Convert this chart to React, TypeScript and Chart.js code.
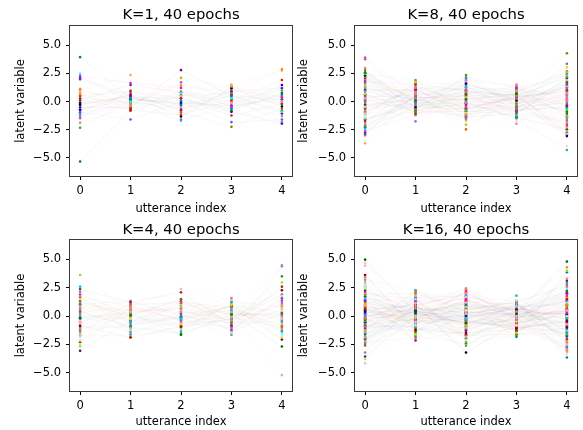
import React, { useEffect, useRef } from 'react';
import { Chart, registerables } from 'chart.js';

Chart.register(...registerables);

const FONT = '"DejaVu Sans", sans-serif';

// x positions (utterance index) and y tick labels
const UTTERANCE_INDEX = [0, 1, 2, 3, 4];
const Y_TICKS = [-5, -2.5, 0, 2.5, 5];

// ---------- K=1 : latent value of each sample at utterance 0..4 ----------
const K1_U0 = [3.94, 2.47, 2.26, 2.09, 1.97, 1.12, 0.97, 0.82, 0.68, 0.5, 0.24, 0.09, -0.29, -0.5, -0.7, -0.94, -1.09, -1.29, -1.47, -1.88, -2.32, -5.32, 0.3, -0.1, 1.1, -0.8, 0.6, -0.2];
const K1_U1 = [0.3, 0.0, 1.65, 0.5, 0.2, -0.2, 2.35, 0.35, -0.4, 0.9, -0.76, 1.47, 0.53, -0.56, 0.18, -1.59, 0.0, -0.2, 0.97, -0.41, 0.1, -0.8, -0.1, 0.4, -0.3, 0.7, -0.65, 0.25];
const K1_U2 = [-0.3, 0.8, 1.2, -0.7, 0.1, 1.41, 0.5, -0.5, 2.1, 0.3, -1.18, 0.82, -1.32, 2.79, -0.12, 0.0, -1.59, 1.7, -0.35, -1.7, -0.94, 0.53, -0.53, 0.3, 0.6, -0.8, 0.9, -0.2];
const K1_U3 = [0.5, 0.3, -0.4, 0.9, -0.6, 0.8, 1.5, -0.1, 1.35, -1.24, 0.1, -0.8, 1.18, 0.53, -0.35, -1.82, -0.59, 0.3, 0.97, -0.12, -2.24, 0.76, 0.2, -0.9, 0.0, 0.6, -0.4, 1.3];
const K1_U4 = [0.2, -0.9, 0.4, 1.2, 0.6, 2.88, 2.76, 0.0, 0.4, -0.2, 1.91, 0.76, -0.44, -1.06, 1.47, -1.59, 1.18, -1.82, 0.38, -1.29, -0.65, -0.21, 0.97, -1.94, 0.59, -0.85, 0.18, 0.0];

// ---------- K=8 ----------
const K8_U0 = [3.9, 3.75, 2.97, 2.8, 2.6, 2.45, 2.3, 2.2, 2.1, 2.0, 1.9, 1.75, 1.6, 1.5, 1.35, 1.2, 1.1, 1.0, 0.85, 0.7, 0.6, 0.5, 0.35, 0.2, 0.1, 0.0, -0.1, -0.25, -0.35, -0.5, -0.6, -0.75, -0.85, -1.0, -1.1, -1.25, -1.4, -1.5, -1.6, -1.75, -1.9, -2.0, -2.15, -2.3, -2.45, -2.6, -2.75, -2.9, -3.0, -3.7, 1.65, 0.95, 0.25, -0.45, -1.2, 2.5, -2.2, 0.65, -0.95, 1.3, -1.55, 0.4, -0.3, 2.15];
const K8_U1 = [0.5, -0.3, 1.2, -0.8, 0.1, 1.91, -0.5, 0.8, -1.1, 0.3, -0.1, 1.5, -0.6, 0.6, -1.24, 0.0, 1.0, -0.4, 0.2, 1.7, -0.9, 0.4, -0.2, 1.3, -0.7, 0.7, -1.76, 0.15, 0.9, -0.35, 1.1, -0.05, 0.55, -1.0, 0.25, 1.4, -0.45, 0.85, -0.15, 0.35, -0.85, 1.8, 0.05, -0.55, 0.65, -1.15, 0.45, 1.15, -0.25, 0.75, -0.65, 0.95, -0.95, 0.3, 1.6, -0.1, 0.5, -0.75, 1.25, 0.1, -0.4, 0.6, -0.3, 0.2];
const K8_U2 = [-0.5, 1.0, -1.2, 2.35, 0.2, -0.8, 1.6, -0.1, 0.6, -1.6, 2.1, -0.3, 0.9, -2.06, 0.4, 1.3, -0.6, 0.0, 1.9, -1.0, 0.7, -1.4, 0.3, 1.1, -0.2, -2.47, 1.5, -0.7, 0.5, 2.0, -1.1, 0.1, 0.8, -0.4, 1.7, -1.76, 0.25, 1.2, -0.9, 0.55, -0.05, 1.4, -1.3, 0.65, 2.2, -0.55, 0.15, 1.0, -1.5, 0.35, -0.25, 1.8, -0.85, 0.45, 0.95, -0.15, 1.25, -1.25, 0.05, 0.75, -0.65, 1.55, -0.35, 0.85];
const K8_U3 = [0.3, -0.6, 1.0, -0.2, 0.7, -1.2, 0.1, 1.5, -0.9, 0.5, -0.4, 1.2, -1.97, 0.0, 0.9, -0.7, 0.35, -1.5, 1.35, -0.1, 0.6, -1.0, 0.2, 1.1, -0.5, 0.8, -1.3, 0.45, -0.25, 1.4, -0.8, 0.15, 0.95, -0.35, 0.55, -1.7, 0.25, 1.05, -0.6, 0.4, -0.05, 0.75, -1.1, 0.05, 1.25, -0.45, 0.65, -0.15, 0.85, -0.95, 0.3, -0.3, 1.0, -0.75, 0.5, -1.4, 0.1, 0.7, -0.2, 1.3, -0.55, 0.2, -0.85, 0.6];
const K8_U4 = [1.2, -2.0, 0.4, 4.29, -0.9, 2.2, -3.06, 0.0, 1.7, -1.4, 3.35, -0.3, 0.8, -2.6, 2.6, -0.6, 1.0, -4.29, 0.2, 3.03, -1.1, 1.5, -2.3, 0.6, -0.1, 2.68, -1.7, 0.9, -2.85, 1.9, -0.45, 0.3, 2.4, -1.25, 0.7, -3.95, 1.35, -0.75, 2.0, -2.15, 0.1, 1.1, -1.55, 2.47, -0.2, 0.5, -2.75, 1.6, -1.0, 0.85, -1.85, 1.8, -0.55, 0.25, 2.15, -2.45, 1.25, -0.35, 0.65, -1.3, 1.45, -0.8, 0.05, -2.9];

// ---------- K=4 ----------
const K4_U0 = [3.62, 2.59, 2.38, 2.15, 1.74, 1.5, 1.3, 1.03, 0.86, 0.62, 0.44, 0.27, 0.03, -0.2, -0.41, -0.62, -0.85, -1.09, -1.38, -1.59, -1.8, -2.12, -2.47, -2.65, -3.06, 1.9, 1.1, 0.7, 0.35, -0.1, -0.3, -0.55, -0.95, -1.2, -1.7, 0.95, 0.15, -0.75, 1.6, -2.3];
const K4_U1 = [0.3, -0.5, 1.2, -1.6, 0.8, -0.3, 0.0, 1.33, -1.09, 0.5, -0.85, 1.0, -1.4, 0.2, -0.1, 0.9, -1.89, 0.6, -0.7, 1.1, -0.2, 0.4, -1.2, 0.7, -0.4, 0.1, -0.6, 1.25, -1.0, 0.35, -0.15, 0.95, -0.95, 0.05, -1.75, 0.55, -0.35, 0.15, -0.55, 0.75];
const K4_U2 = [0.91, -0.27, 2.09, -1.38, 0.38, -0.71, 1.5, 0.18, -1.15, 0.62, -0.03, 1.2, -0.5, -1.65, 0.1, 2.38, -0.91, 0.3, -0.2, 1.0, -0.6, 0.5, -1.3, 0.8, -0.1, 1.45, -0.8, 0.0, -1.55, 0.7, 0.25, -0.4, 1.1, -1.0, 0.45, -0.15, 0.85, -0.7, 1.3, -0.35];
const K4_U3 = [-0.15, 0.56, -0.8, 1.2, -0.35, 0.97, 0.09, -1.21, 0.33, 1.59, -0.56, 0.77, -1.0, 0.2, -1.44, 1.42, -0.25, 0.45, -1.65, 0.6, 0.0, -0.7, 1.1, -0.45, 0.85, -0.9, 0.3, 1.3, -0.1, -1.3, 0.65, -0.6, 0.15, 1.0, -0.3, 0.5, -1.1, 0.4, -0.5, 0.9];
const K4_U4 = [0.91, -1.38, 2.59, -0.44, 4.5, -1.89, 0.27, 1.56, -5.2, 0.03, 3.5, -0.91, 1.15, -2.68, 0.68, -0.2, 2.27, -1.15, 4.38, -0.68, 1.8, 0.47, -1.62, 2.97, -2.06, 1.36, -0.1, 0.8, -1.0, 0.2, 1.6, -0.5, 0.1, -1.3, 1.0, -0.3, 0.6, -0.8, 1.9, 0.35];

// ---------- K=16 ----------
const K16_U0 = [4.97, 4.68, 4.44, 3.62, 3.42, 3.2, 2.97, 2.8, 2.65, 2.5, 2.4, 2.3, 2.15, 2.05, 1.95, 1.85, 1.7, 1.6, 1.5, 1.4, 1.3, 1.2, 1.1, 1.0, 0.9, 0.8, 0.7, 0.6, 0.5, 0.45, 0.35, 0.25, 0.15, 0.05, -0.05, -0.15, -0.25, -0.35, -0.45, -0.55, -0.65, -0.75, -0.85, -0.95, -1.05, -1.15, -1.25, -1.35, -1.45, -1.55, -1.65, -1.75, -1.85, -1.95, -2.05, -2.15, -2.3, -2.45, -2.62, -3.21, -3.56, -3.8, -4.15, 1.75, 0.95, 0.3, -0.4, -1.0, 2.2, -1.6, 0.55, -0.2, 1.25, -0.8, 0.0, 1.55, -1.2, 0.75, -0.6, 2.6, -2.2, 0.4, -0.1, 1.15, -1.4, 0.65, -0.3, 1.9, -0.9, 0.2, -1.9, 1.05, -0.5, 0.85, -1.1, 0.1];
const K16_U1 = [0.3, -0.5, 1.1, -1.2, 0.7, 2.29, -0.2, 0.0, -0.8, 1.5, -1.6, 0.4, -0.4, 0.9, 2.0, -1.0, 0.2, -0.6, 1.3, -2.15, 0.6, -0.1, 1.8, -0.9, 0.1, -1.4, 0.8, -0.3, 1.0, -0.7, 0.5, 1.6, -1.1, 0.25, -0.05, 1.2, -1.8, 0.35, -0.45, 0.75, 2.1, -0.25, 0.05, -1.3, 0.95, -0.55, 0.45, 1.4, -0.85, 0.15, -0.15, 1.7, -1.5, 0.65, -0.35, 0.85, -1.95, 0.55, -0.65, 1.05, 0.0, -1.05, 1.9, 0.3, -0.75, 0.4, 1.25, -0.2, -1.25, 0.7, -0.4, 1.45, 0.1, -0.95, 0.6, -0.1, 2.2, -1.7, 0.2, -0.5, 0.9, -0.3, 1.15, -1.15, 0.5, -0.6, 0.35, 1.55, -0.9, 0.05, -0.15, 0.8, -1.35, 0.25, 1.35, -0.45];
const K16_U2 = [-0.6, 1.2, 0.2, -1.5, 2.44, -0.3, 0.8, -2.1, 0.5, 1.7, -1.0, 0.0, 2.2, -0.8, 0.4, -2.62, 1.0, -0.2, 1.5, -1.3, 0.7, -0.5, 2.0, -1.8, 0.3, 1.3, -0.9, 0.1, -3.21, 0.9, -0.4, 1.8, -1.2, 0.6, -0.1, 2.35, -2.4, 1.1, -0.7, 0.25, 1.45, -1.6, 0.45, -0.25, 1.9, -1.05, 0.75, -2.25, 0.05, 1.25, -0.45, 0.95, -1.4, 0.35, 2.1, -0.85, 0.15, -1.95, 1.6, -0.15, 0.55, -1.15, 1.05, -0.65, 2.3, -0.35, 0.85, -2.5, 0.65, -0.05, 1.35, -1.7, 0.2, -0.95, 1.55, -0.55, 0.4, 1.15, -1.25, 0.0, 2.05, -0.75, 0.5, -1.45, 0.9, -0.3, 1.75, -2.0, 0.3, -0.1, 1.4, -1.1, 0.7, -0.6, 1.0, -0.2];
const K16_U3 = [0.2, -0.5, 0.9, -1.1, 0.4, 1.8, -0.2, 0.0, -0.8, 1.36, -1.5, 0.6, -0.3, 1.1, -0.7, 0.1, -1.83, 0.8, -0.1, 0.5, 1.25, -0.9, 0.3, -0.45, 0.7, -1.3, 0.05, 1.0, -0.6, 0.25, -1.0, 0.45, -0.15, 1.2, -0.75, 0.15, -1.65, 0.55, -0.35, 0.85, 0.0, -0.55, 1.3, -1.2, 0.35, -0.25, 0.65, -0.95, 0.1, 1.05, -0.4, 0.75, -1.4, 0.2, -0.05, 0.95, -0.65, 0.4, -1.05, 0.3, 1.15, -0.2, 0.5, -0.85, 0.6, -1.25, 0.15, -0.5, 0.9, -0.1, 0.35, -1.6, 0.7, -0.3, 1.35, -0.7, 0.05, 0.45, -0.9, 0.25, -0.15, 1.0, -1.1, 0.55, -0.45, 0.8, -0.6, 0.1, -1.35, 0.65, -0.25, 1.1, -0.8, 0.3, 0.0, -0.35];
const K16_U4 = [4.8, -2.5, 1.2, -0.4, 4.3, -1.6, 0.5, 2.4, -3.35, 0.0, 4.0, -1.0, 1.8, -2.91, 0.8, -0.2, 3.86, -1.3, 0.3, 2.0, -3.65, 1.0, -0.7, 3.33, -2.2, 0.6, 1.5, -1.8, 0.1, 3.12, -0.5, 1.3, -2.7, 2.74, -0.9, 0.4, -1.5, 2.2, -0.1, 1.0, -2.35, 0.7, 2.55, -1.15, 0.2, -3.0, 1.65, -0.6, 0.9, -2.05, 2.9, -0.3, 1.1, -1.7, 0.45, 2.1, -2.6, 0.15, -0.8, 1.4, -1.35, 0.65, 1.9, -2.8, 0.35, -0.15, 1.75, -1.95, 0.85, -0.45, 2.6, -1.05, 0.05, 1.2, -2.45, 0.55, -0.65, 1.55, -1.45, 0.25, 2.3, -0.95, 0.75, -3.15, 1.05, -0.35, 1.45, -1.75, 0.5, -0.1, 2.0, -2.25, 0.95, -0.55, 1.35, -1.2];

// ---------- styling ----------
const PALETTE = [
  '#008080', '#00ffff', '#ff00ff', '#9400d3', '#008b8b', '#ff8c00', '#f4a460', '#ffa07a', '#daa520', '#dc143c',
  '#ff0000', '#2f4f4f', '#000000', '#800080', '#0000ff', '#4169e1', '#1e90ff', '#ba55d3', '#cd5c5c', '#bc8f8f',
  '#808000', '#008000', '#32cd32', '#000080', '#ff69b4', '#8b4513', '#cd853f', '#4682b4', '#c71585', '#f08080',
  '#9acd32', '#bdb76b', '#00bfff', '#b22222', '#20b2aa', '#da70d6', '#ffd700', '#228b22', '#6a5acd', '#d2b48c',
  '#db7093', '#2e8b57', '#d2691e', '#9370db', '#006400', '#ffb6c1', '#d8bfd8', '#8b0000', '#ff7f50', '#5f9ea0',
  '#deb887', '#add8e6', '#f5deb3', '#7fffd4', '#7cfc00', '#4b0082', '#ff1493', '#fa8072', '#b8860b', '#3cb371',
];
const LINE_ALPHA = 0.04;

function rgba(hex: string, a: number) {
  const r = parseInt(hex.slice(1, 3), 16);
  const g = parseInt(hex.slice(3, 5), 16);
  const b = parseInt(hex.slice(5, 7), 16);
  return `rgba(${r},${g},${b},${a})`;
}

type PanelSpec = {
  title: string;
  cols: number[][];
  colorOffset: number;
  left: number;
  top: number;
  width: number;
  height: number;
  padRight: number;
  yTitlePad: number;
  xAxisHeight: number;
  xTitlePadBottom: number;
  titleBaseline: number;
};

const PANELS: PanelSpec[] = [
  { title: 'K=1, 40 epochs', cols: [K1_U0, K1_U1, K1_U2, K1_U3, K1_U4], colorOffset: 0,
    left: 0, top: 0, width: 300, height: 220, padRight: 8, yTitlePad: 14, xAxisHeight: 44, xTitlePadBottom: 4.5,
    titleBaseline: 19 },
  { title: 'K=8, 40 epochs', cols: [K8_U0, K8_U1, K8_U2, K8_U3, K8_U4], colorOffset: 17,
    left: 285, top: 0, width: 298, height: 220, padRight: 6, yTitlePad: 12.5, xAxisHeight: 44, xTitlePadBottom: 4.5,
    titleBaseline: 19 },
  { title: 'K=4, 40 epochs', cols: [K4_U0, K4_U1, K4_U2, K4_U3, K4_U4], colorOffset: 31,
    left: 0, top: 214, width: 300, height: 216, padRight: 8, yTitlePad: 14, xAxisHeight: 39, xTitlePadBottom: 1.5,
    titleBaseline: 20 },
  { title: 'K=16, 40 epochs', cols: [K16_U0, K16_U1, K16_U2, K16_U3, K16_U4], colorOffset: 44,
    left: 285, top: 214, width: 298, height: 216, padRight: 6, yTitlePad: 12.5, xAxisHeight: 39, xTitlePadBottom: 1.5,
    titleBaseline: 20 },
];

// axes frame (all four spines) like matplotlib
const framePlugin = {
  id: 'frame',
  afterDraw(chart: any) {
    const { ctx, chartArea } = chart;
    const l = Math.round(chartArea.left);
    const t = Math.round(chartArea.top);
    const r = Math.round(chartArea.right);
    const b = Math.round(chartArea.bottom);
    ctx.save();
    ctx.strokeStyle = '#3a3a3a';
    ctx.lineWidth = 1;
    ctx.strokeRect(l - 0.5, t - 0.5, r - l + 1, b - t + 1);
    ctx.restore();
  },
};

// title centred over the plot area (matplotlib axes title)
const panelTitlePlugin = {
  id: 'panelTitle',
  afterDraw(chart: any, _args: any, opts: any) {
    const { ctx, chartArea } = chart;
    ctx.save();
    ctx.font = `14.8px ${FONT}`;
    ctx.fillStyle = '#000';
    ctx.textAlign = 'center';
    ctx.textBaseline = 'alphabetic';
    ctx.fillText(opts.text, (chartArea.left + chartArea.right) / 2, opts.baseline);
    ctx.restore();
  },
};

function fmtY(v: number) {
  const s = Math.abs(v).toFixed(1);
  return v < 0 ? '\u2212' + s : s;
}

function Panel({ spec }: { spec: PanelSpec }) {
  const ref = useRef<HTMLCanvasElement>(null);
  useEffect(() => {
    if (!ref.current) return;
    const n = Math.min(...spec.cols.map((c) => c.length));
    const datasets: any[] = [];
    for (let i = 0; i < n; i++) {
      const c = PALETTE[(i + spec.colorOffset) % PALETTE.length];
      datasets.push({
        data: UTTERANCE_INDEX.map((x, j) => ({ x, y: spec.cols[j][i] })),
        showLine: true,
        borderColor: rgba(c, LINE_ALPHA),
        borderWidth: 1.2,
        pointRadius: 1.3,
        pointHoverRadius: 1.3,
        pointBorderWidth: 0,
        pointBackgroundColor: c,
        pointBorderColor: c,
      });
    }
    const tickFont = { family: FONT, size: 11.5 };
    const chart = new Chart(ref.current, {
      type: 'scatter',
      data: { datasets },
      options: {
        animation: false,
        responsive: false,
        events: [],
        layout: { padding: { left: 0, right: spec.padRight, top: 26, bottom: 0 } },
        plugins: {
          legend: { display: false },
          tooltip: { enabled: false },
          title: { display: false },
          panelTitle: { text: spec.title, baseline: spec.titleBaseline },
        },
        scales: {
          x: {
            type: 'linear',
            min: -0.2,
            max: 4.2,
            afterBuildTicks: (s: any) => {
              s.ticks = UTTERANCE_INDEX.map((v) => ({ value: v }));
            },
            afterFit: (s: any) => {
              s.height = spec.xAxisHeight;
            },
            ticks: { color: '#000', font: tickFont, padding: 4, maxRotation: 0, autoSkip: false, callback: (v: any) => String(v) },
            grid: { drawOnChartArea: false, drawTicks: true, tickLength: 4, tickColor: '#000', lineWidth: 1 },
            border: { display: false },
            title: { display: true, text: 'utterance index', color: '#000', font: tickFont, padding: { top: 0, bottom: spec.xTitlePadBottom } },
          },
          y: {
            type: 'linear',
            min: -6.6,
            max: 6.7,
            afterBuildTicks: (s: any) => {
              s.ticks = Y_TICKS.map((v) => ({ value: v }));
            },
            afterFit: (s: any) => {
              s.width = 70;
            },
            ticks: { color: '#000', font: tickFont, padding: 5, autoSkip: false, callback: (v: any) => fmtY(Number(v)) },
            grid: { drawOnChartArea: false, drawTicks: true, tickLength: 4, tickColor: '#000', lineWidth: 1 },
            border: { display: false },
            title: { display: true, text: 'latent variable', color: '#000', font: tickFont, padding: { top: spec.yTitlePad, bottom: 0 } },
          },
        },
      } as any,
      plugins: [framePlugin, panelTitlePlugin],
    });
    return () => chart.destroy();
  }, [spec]);
  return (
    <canvas
      ref={ref}
      width={spec.width}
      height={spec.height}
      style={{ position: 'absolute', left: spec.left, top: spec.top, width: spec.width, height: spec.height }}
    />
  );
}

export default function App() {
  return (
    <div style={{ position: 'fixed', left: 0, top: 0, width: 583, height: 430, background: '#fff', overflow: 'hidden' }}>
      {PANELS.map((p) => (
        <Panel key={p.title} spec={p} />
      ))}
    </div>
  );
}
